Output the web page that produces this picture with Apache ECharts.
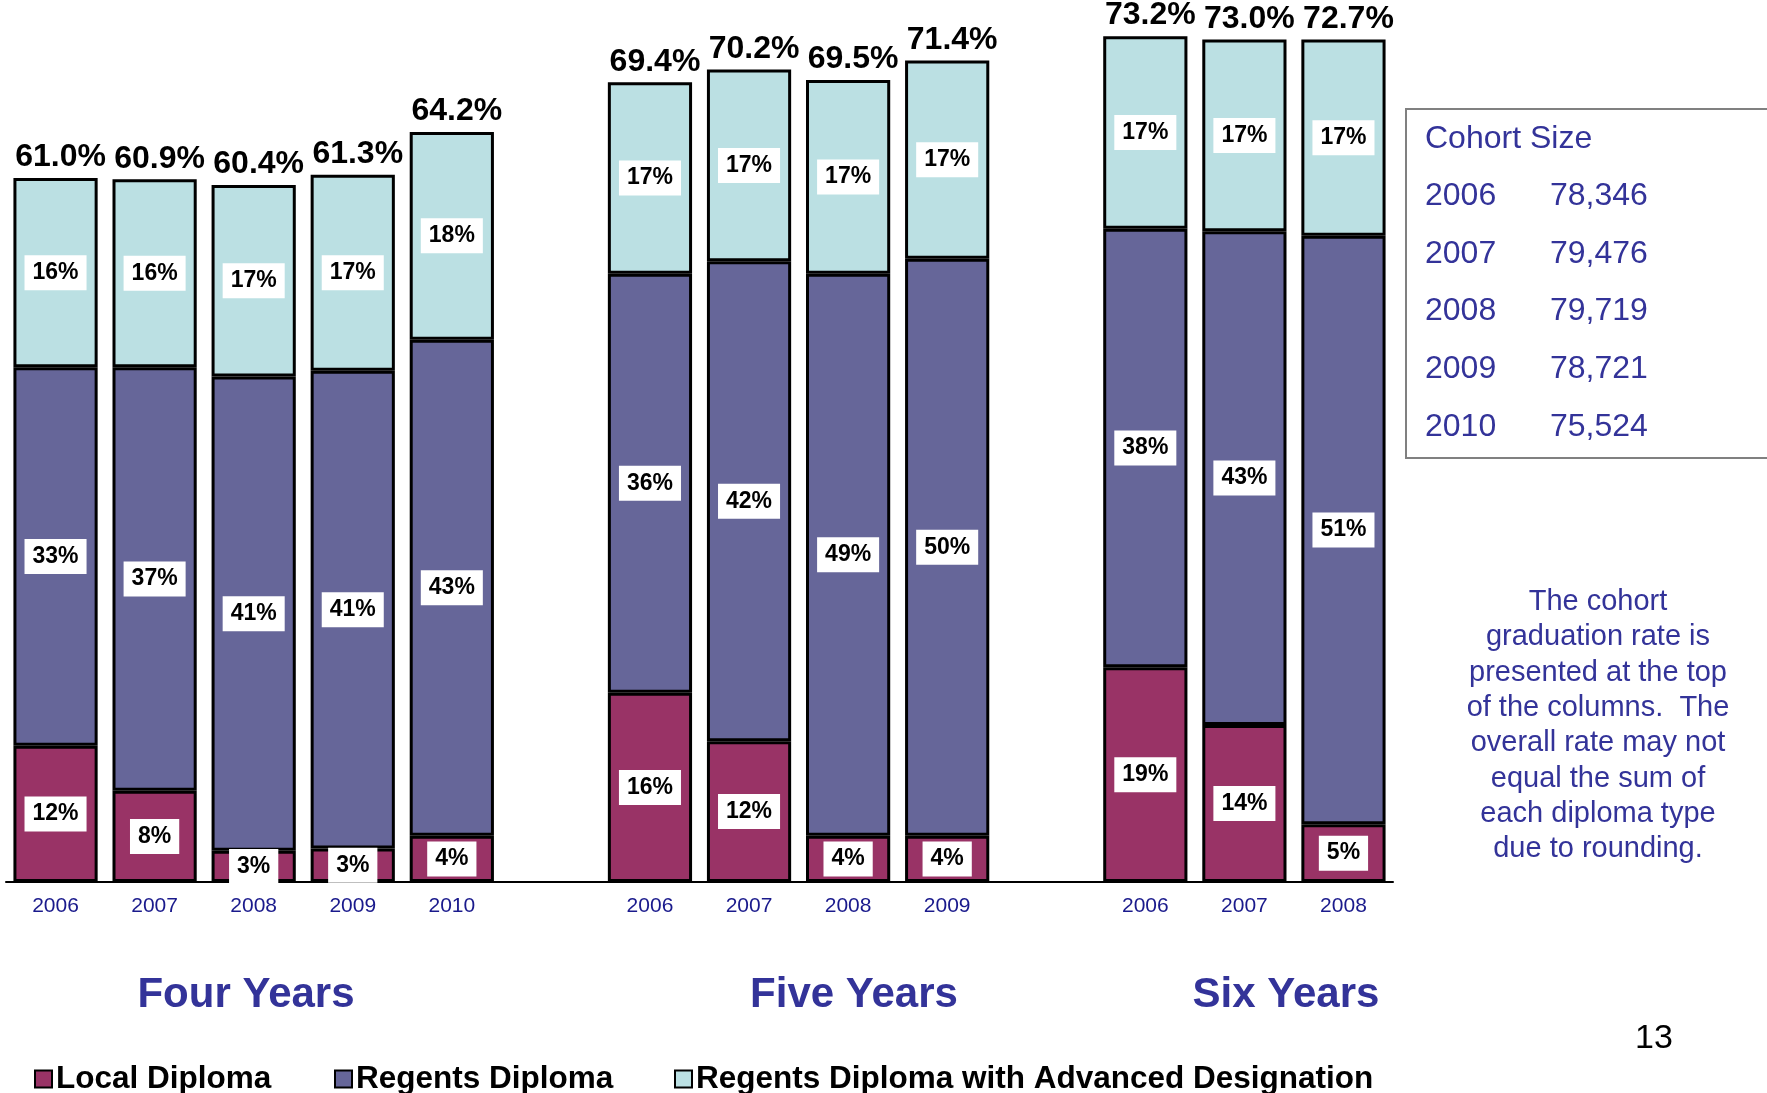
<!DOCTYPE html>
<html>
<head>
<meta charset="utf-8">
<script src="https://cdn.jsdelivr.net/npm/echarts@6/dist/echarts.min.js"></script>
<style>
html,body{margin:0;padding:0;background:#fff;}
#chart{width:1767px;height:1093px;}
</style>
</head>
<body>
<div id="chart"></div>
<script>
// ---- data ----
const fourYearCats = ['2006', '2007', '2008', '2009', '2010'];
const fiveYearCats = ['2006', '2007', '2008', '2009'];
const sixYearCats = ['2006', '2007', '2008'];
const groupNames = ['Four Years', 'Five Years', 'Six Years'];

const localFour = [11.8, 7.9, 2.7, 2.9, 4.0];
const regentsFour = [32.8, 36.7, 41.1, 41.4, 43.0];
const advancedFour = [16.4, 16.3, 16.6, 17.0, 18.0];
const totalFour = ['61.0', '60.9', '60.4', '61.3', '64.2'];

const localFive = [16.4, 12.2, 4.0, 4.0];
const regentsFive = [36.3, 41.6, 48.7, 50.0];
const advancedFive = [16.6, 16.6, 16.8, 17.2];
const totalFive = ['69.4', '70.2', '69.5', '71.4'];

const localSix = [18.6, 13.6, 5.0];
const regentsSix = [38.0, 42.8, 51.0];
const advancedSix = [16.7, 16.6, 17.0];
const totalSix = ['73.2', '73.0', '72.7'];

const seriesNames = ['Local Diploma', 'Regents Diploma', 'Regents Diploma with Advanced Designation'];

const cohortTitle = 'Cohort Size';
const cohortYears = ['2006', '2007', '2008', '2009', '2010'];
const cohortSizes = ['78,346', '79,476', '79,719', '78,721', '75,524'];

const noteLines = ['The cohort', 'graduation rate is', 'presented at the top', 'of the columns.  The', 'overall rate may not', 'equal the sum of', 'each diploma type', 'due to rounding.'];
const pageNumber = '13';

// ---- build axis slots (groups separated by one empty slot) ----
const xCats = [].concat(
  fourYearCats.map(y => 'a|' + y), ['gap1'],
  fiveYearCats.map(y => 'b|' + y), ['gap2'],
  sixYearCats.map(y => 'c|' + y)
);
function joinGroups(a, b, c) { return [].concat(a, ['-'], b, ['-'], c); }
const localData = joinGroups(localFour, localFive, localSix);
const regentsData = joinGroups(regentsFour, regentsFive, regentsSix);
const advancedData = joinGroups(advancedFour, advancedFive, advancedSix);
const totalLabels = joinGroups(totalFour, totalFive, totalSix);
const stackTops = localData.map((v, i) => v === '-' ? '-' : +(v + regentsData[i] + advancedData[i]).toFixed(2));

const FONT = '"Liberation Sans", Arial, Helvetica, sans-serif';
const colors = ['#993366', '#666699', '#BBE0E3'];

const insideLabel = {
  show: true,
  position: 'inside',
  formatter: p => Math.round(p.value) + '%',
  backgroundColor: '#ffffff',
  color: '#000',
  fontFamily: FONT,
  fontWeight: 'bold',
  fontSize: 23,
  padding: [6, 8]
};

function barSeries(name, data, color) {
  return {
    name: name,
    type: 'bar',
    stack: 'total',
    data: data,
    barCategoryGap: '15%',
    itemStyle: { color: color, borderColor: '#000', borderWidth: 3 },
    label: insideLabel,
    emphasis: { disabled: true },
    animation: false
  };
}

const chart = echarts.init(document.getElementById('chart'), null, { renderer: 'canvas' });

const legendCommon = {
  orient: 'horizontal',
  top: 1063,
  padding: 0,
  icon: 'rect',
  itemWidth: 17,
  itemHeight: 17,
  itemGap: 0,
  selectedMode: false,
  textStyle: { fontFamily: FONT, fontSize: 31.5, fontWeight: 'bold', color: '#000', padding: [0, 0, 0, -1] }
};

const cohortGraphics = [];
cohortGraphics.push({
  type: 'rect',
  shape: { x: 1406, y: 109, width: 400, height: 349 },
  style: { fill: 'none', stroke: '#808080', lineWidth: 2 }
});
cohortGraphics.push({
  type: 'text', x: 1425, y: 139,
  style: { text: cohortTitle, fontFamily: FONT, fontSize: 32, fill: '#333399', verticalAlign: 'middle' }
});
cohortYears.forEach((y, i) => {
  cohortGraphics.push({
    type: 'text', x: 1425, y: 196 + i * 57.7,
    style: { text: y, fontFamily: FONT, fontSize: 32, fill: '#333399', verticalAlign: 'middle' }
  });
  cohortGraphics.push({
    type: 'text', x: 1550, y: 196 + i * 57.7,
    style: { text: cohortSizes[i], fontFamily: FONT, fontSize: 32, fill: '#333399', verticalAlign: 'middle' }
  });
});

const noteGraphics = noteLines.map((line, i) => ({
  type: 'text',
  x: 1598, y: 602 + i * 35.3,
  style: { text: line, fontFamily: FONT, fontSize: 29, fill: '#333399', align: 'center', verticalAlign: 'middle' }
}));

const groupCenters = [246, 854, 1286];
const groupGraphics = groupNames.map((g, i) => ({
  type: 'text',
  x: groupCenters[i], y: 995,
  style: { text: g, fontFamily: FONT, fontSize: 42, fontWeight: 'bold', fill: '#333399', align: 'center', verticalAlign: 'middle' }
}));

const option = {
  backgroundColor: '#ffffff',
  animation: false,
  grid: { left: 6, right: 374, top: 5, bottom: 211, containLabel: false },
  xAxis: {
    type: 'category',
    data: xCats,
    axisLine: { show: true, lineStyle: { color: '#000', width: 2 } },
    axisTick: { show: false },
    axisLabel: {
      interval: 0,
      margin: 14,
      formatter: v => (v.indexOf('|') >= 0 ? v.split('|')[1] : ''),
      fontFamily: FONT,
      fontSize: 21,
      color: '#1a1a8c'
    },
    splitLine: { show: false }
  },
  yAxis: {
    type: 'value',
    min: 0,
    max: 76,
    show: false,
    splitLine: { show: false }
  },
  legend: [
    Object.assign({}, legendCommon, { left: 34, data: [seriesNames[0]] }),
    Object.assign({}, legendCommon, { left: 334, data: [seriesNames[1]] }),
    Object.assign({}, legendCommon, { left: 674, data: [seriesNames[2]] })
  ],
  series: [
    barSeries(seriesNames[0], localData, colors[0]),
    barSeries(seriesNames[1], regentsData, colors[1]),
    barSeries(seriesNames[2], advancedData, colors[2]),
    {
      name: 'total',
      type: 'scatter',
      data: stackTops,
      symbolSize: 1,
      itemStyle: { color: 'transparent', opacity: 1 },
      label: {
        show: true,
        position: 'top',
        distance: 4,
        offset: [5, 0],
        formatter: p => totalLabels[p.dataIndex] + '%',
        fontFamily: FONT,
        fontWeight: 'bold',
        fontSize: 32,
        color: '#000'
      },
      emphasis: { disabled: true },
      silent: true,
      z: 10
    }
  ],
  graphic: [].concat(cohortGraphics, noteGraphics, groupGraphics, [{
    type: 'text', x: 1654, y: 1039,
    style: { text: pageNumber, fontFamily: FONT, fontSize: 34, fill: '#000', align: 'center', verticalAlign: 'middle' }
  }])
};

chart.setOption(option);
</script>
</body>
</html>
